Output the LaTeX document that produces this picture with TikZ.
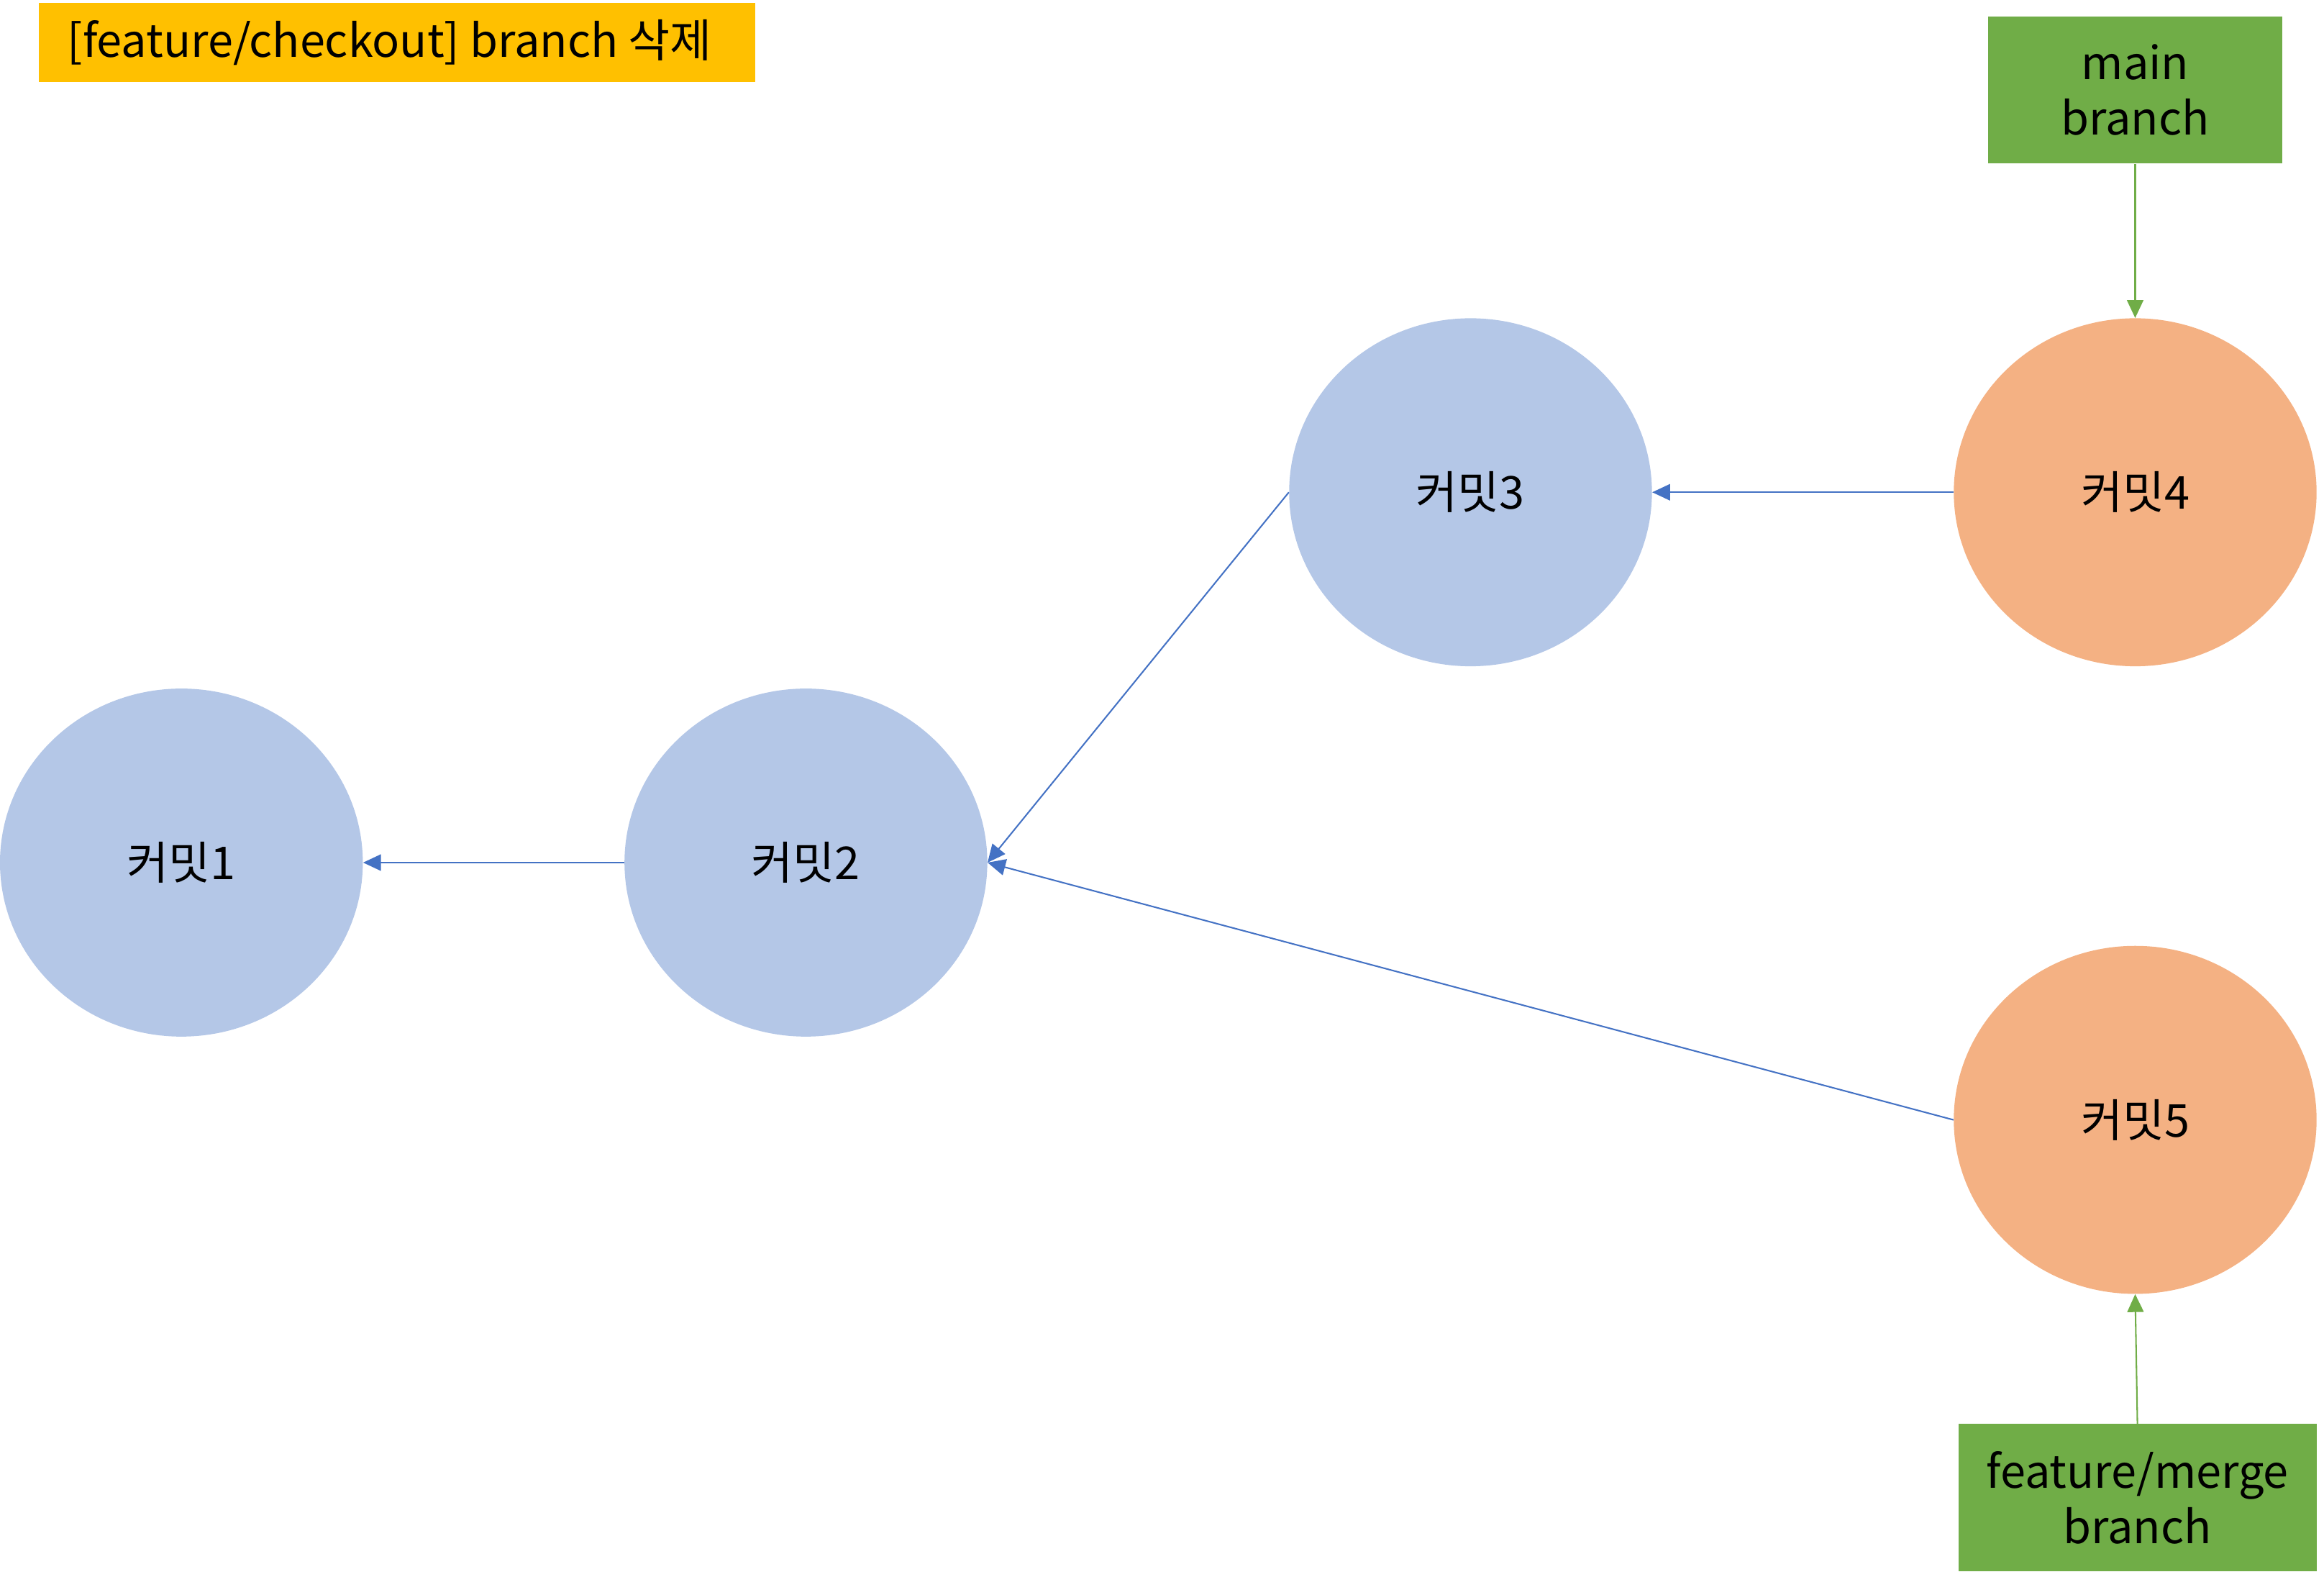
\documentclass[tikz,border=0pt]{standalone}
\usepackage{fontspec}
\setmainfont{Noto Sans CJK KR}
\usetikzlibrary{shapes.geometric,arrows.meta}
\definecolor{commitblue}{HTML}{B4C7E7}
\definecolor{commitorange}{HTML}{F4B183}
\definecolor{branchgreen}{HTML}{70AD47}
\definecolor{titleyellow}{HTML}{FFC000}
\definecolor{linkblue}{HTML}{4472C4}
\tikzset{
    commit/.style={ellipse, minimum width=244pt, minimum height=234pt, inner sep=0pt},
    branchbox/.style={rectangle, fill=branchgreen, align=center, inner sep=0pt, minimum height=99pt},
    parent/.style={linkblue, line width=1pt, -{Triangle[length=12pt,width=11pt]}},
    pointer/.style={branchgreen, line width=1pt, -{Triangle[length=12pt,width=11pt]}}
}

\begin{document}
\begin{tikzpicture}[x=1pt, y=-1pt, font=\fontsize{30.5}{37}\selectfont]
    \useasboundingbox (0,0) rectangle (1563,1060);

    % Title
    \node[rectangle, fill=titleyellow, minimum width=482pt, minimum height=53pt, inner sep=0pt] (title) at (267,28.5) {\hspace*{-10pt}[feature/checkout] branch 삭제};

    % Draw the commits
    \foreach \n/\x/\y/\c in {1/122/580/commitblue, 2/542/580/commitblue, 3/989/331/commitblue,
                             4/1436/331/commitorange, 5/1436/753/commitorange}
        \node[commit, fill=\c] (c\n) at (\x,\y) {커밋\n};

    % Branch labels
    \node[branchbox, minimum width=198pt] (main) at (1436,60.5) {main\\branch};
    \node[branchbox, minimum width=241pt] (merge) at (1437.5,1007) {feature/merge\\branch};

    % Parent links
    \draw[parent] (c2.west) -- (c1.east);
    \draw[parent] (c3.west) -- (c2.east);
    \draw[parent] (c4.west) -- (c3.east);
    \draw[parent] (c5.west) -- (c2.east);

    % Branch pointers
    \draw[pointer] (main.south) -- (c4.north);
    \draw[pointer] (merge.north) -- (c5.south);
\end{tikzpicture}
\end{document}
